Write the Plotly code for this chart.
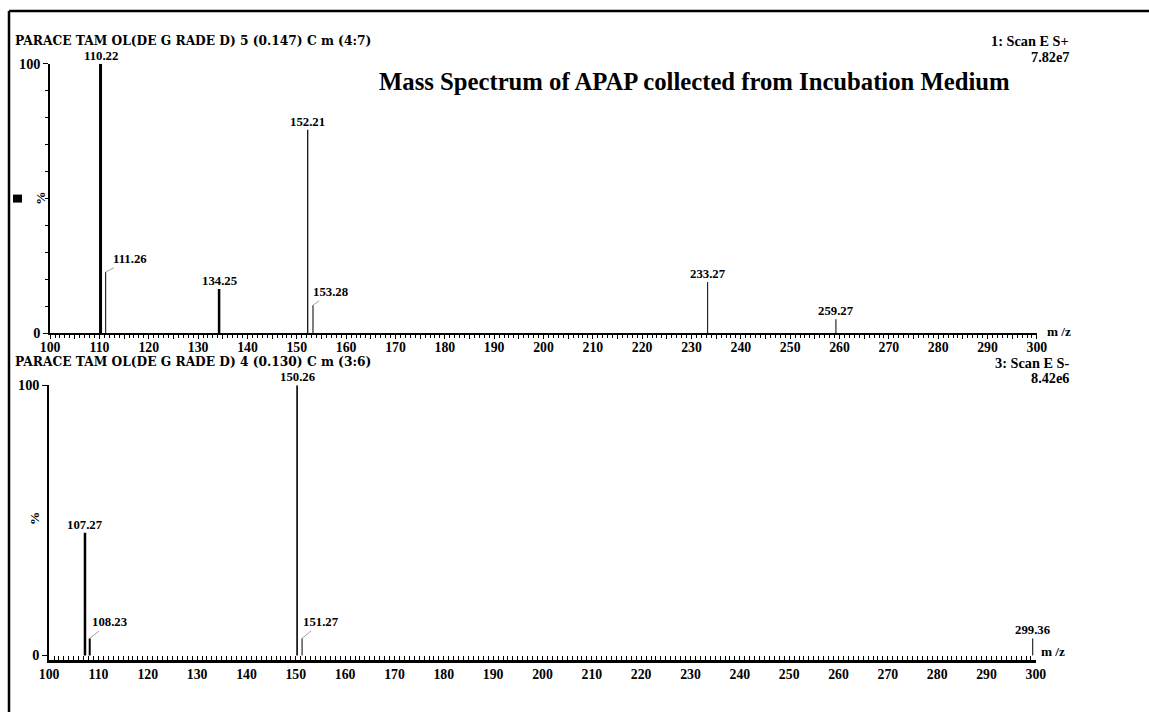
import plotly.graph_objects as go

# ESI+ scan: m/z and relative intensity (%)
mz_pos = [110.22, 111.26, 134.25, 152.21, 153.28, 233.27, 259.27]
int_pos = [100, 22.7, 16.4, 75.5, 10.4, 19.0, 5.2]
# ESI- scan
mz_neg = [107.27, 108.23, 150.26, 151.27, 299.36]
int_neg = [45.4, 6.3, 100, 6.3, 6.3]

# stem widths (px) and label leader offsets (px) per peak
width_pos = [3, 1, 2.5, 1.2, 1, 1, 1]
width_neg = [2.5, 2, 1.6, 1, 1]
leader_pos = [None, (24, -13), None, None, (18, -13), None, None]
leader_neg = [None, (20, -16), None, (19, -16), None]

# layout positions below are given in page pixels; OFF/S convert them
# to figure pixels (body margin and display scale of the page)
OFF, S = 8, 0.98
W, H = 1160, 720
SERIF = "Liberation Serif"
HEADER_SERIF = "DejaVu Serif"


def px(x):
    return (x - OFF) / S / W


def py(y):
    return 1 - (y - OFF) / S / H


def fs(size):
    return round(size / S, 2)


fig = go.Figure()

peak_font = dict(family=SERIF, size=fs(12.5), color="black", weight="bold")


def add_spectrum(mz, inten, widths, leaders, xa, ya):
    for m, v, w, ld in zip(mz, inten, widths, leaders):
        fig.add_trace(go.Scatter(
            x=[m, m], y=[0, v], mode="lines",
            line=dict(color="black", width=w),
            xaxis=xa, yaxis=ya, showlegend=False, hoverinfo="skip"))
        label = f"{m:.2f}"
        if ld is None:
            fig.add_annotation(x=m, y=v, xref=xa, yref=ya, text=label,
                               showarrow=False, yanchor="bottom", yshift=-1,
                               font=peak_font)
        else:
            fig.add_annotation(x=m, y=v, xref=xa, yref=ya, text=label,
                               showarrow=True, arrowhead=0, arrowwidth=0.7,
                               arrowcolor="#777777", ax=ld[0], ay=ld[1],
                               font=peak_font)


add_spectrum(mz_pos, int_pos, width_pos, leader_pos, "x", "y")
add_spectrum(mz_neg, int_neg, width_neg, leader_neg, "x2", "y2")

tick_font = dict(family=SERIF, size=fs(13.5), color="black", weight="bold")
xticks = list(range(100, 301, 5))
xtext = [str(v) if v % 10 == 0 else "" for v in xticks]

common_x = dict(range=[100, 300], tickmode="array", tickvals=xticks, ticktext=xtext,
                showgrid=False, zeroline=False, showline=True, linecolor="black",
                tickfont=tick_font, tickcolor="black", fixedrange=True)
ytick_font = dict(family=SERIF, size=fs(14), color="black", weight="bold")

fig.update_layout(
    width=W, height=H, margin=dict(l=0, r=0, t=0, b=0),
    paper_bgcolor="white", plot_bgcolor="white",
    xaxis=dict(domain=[px(48), px(1032)], anchor="y", ticks="outside", ticklen=4,
               linewidth=1.5, tickwidth=1, ticklabelstandoff=-4,
               minor=dict(dtick=1, ticks="outside", ticklen=3, tickcolor="black", tickwidth=1),
               **common_x),
    yaxis=dict(domain=[py(334), py(64)], anchor="x", range=[0, 100],
               tickmode="array", tickvals=[0, 100], ticktext=["0", "100"],
               ticks="outside", ticklen=5, tickcolor="black",
               minor=dict(dtick=10, ticks="outside", ticklen=3, tickcolor="black"),
               showgrid=False, zeroline=False, showline=True, linecolor="black",
               linewidth=1.5, tickfont=ytick_font, fixedrange=True),
    xaxis2=dict(domain=[px(47), px(1031)], anchor="y2", ticks="inside", ticklen=0,
                linewidth=2.5, tickwidth=1,
                minor=dict(dtick=1, ticks="inside", ticklen=4, tickcolor="black", tickwidth=1),
                **common_x),
    yaxis2=dict(domain=[py(661), py(386)], anchor="x2", range=[-1.5, 100],
                tickmode="array", tickvals=[0, 100], ticktext=["0", "100"],
                ticks="outside", ticklen=5, tickcolor="black",
                showgrid=False, zeroline=False, showline=True, linecolor="black",
                linewidth=1.5, tickfont=ytick_font, fixedrange=True),
)

hdr_font = dict(family=HEADER_SERIF, size=fs(12), color="black", weight="bold")
right_font = dict(family=SERIF, size=fs(14), color="black", weight="bold")
small_font = dict(family=SERIF, size=fs(13), color="black", weight="bold")


def note(x, y, text, xanchor="left", font=hdr_font, angle=0):
    fig.add_annotation(x=px(x), y=py(y), xref="paper", yref="paper", text=text,
                       showarrow=False, xanchor=xanchor, yanchor="middle",
                       font=font, textangle=angle)


note(11, 41, "PARACE TAM OL(DE G RADE D) 5 (0.147) C m (4:7)")
note(1066, 41, "1: Scan E S+", xanchor="right", font=right_font)
note(1066, 57, "7.82e7", xanchor="right", font=right_font)
note(11, 363, "PARACE TAM OL(DE G RADE D) 4 (0.130) C m (3:6)")
note(1066, 364, "3: Scan E S-", xanchor="right", font=right_font)
note(1066, 379, "8.42e6", xanchor="right", font=right_font)
note(1054, 332, "m /z", xanchor="center", font=small_font)
note(1048, 653, "m /z", xanchor="center", font=small_font)
note(38, 199, "%", xanchor="center", angle=-90, font=small_font)
note(33, 520, "%", xanchor="center", angle=-90, font=small_font)
note(691, 82, "Mass Spectrum of APAP collected from Incubation Medium", xanchor="center",
     font=dict(family=SERIF, size=fs(24.2), color="black", weight="bold"))

# frame lines and marker box
fig.add_shape(type="line", xref="paper", yref="paper", x0=px(7), x1=1, y0=py(11), y1=py(11),
              line=dict(color="black", width=2.5))
fig.add_shape(type="line", xref="paper", yref="paper", x0=px(7), x1=px(7), y0=py(11), y1=0,
              line=dict(color="black", width=2.5))
fig.add_shape(type="rect", xref="paper", yref="paper", x0=px(11), x1=px(20), y0=py(203), y1=py(195),
              fillcolor="black", line=dict(width=0))

fig.write_html("out.html")
